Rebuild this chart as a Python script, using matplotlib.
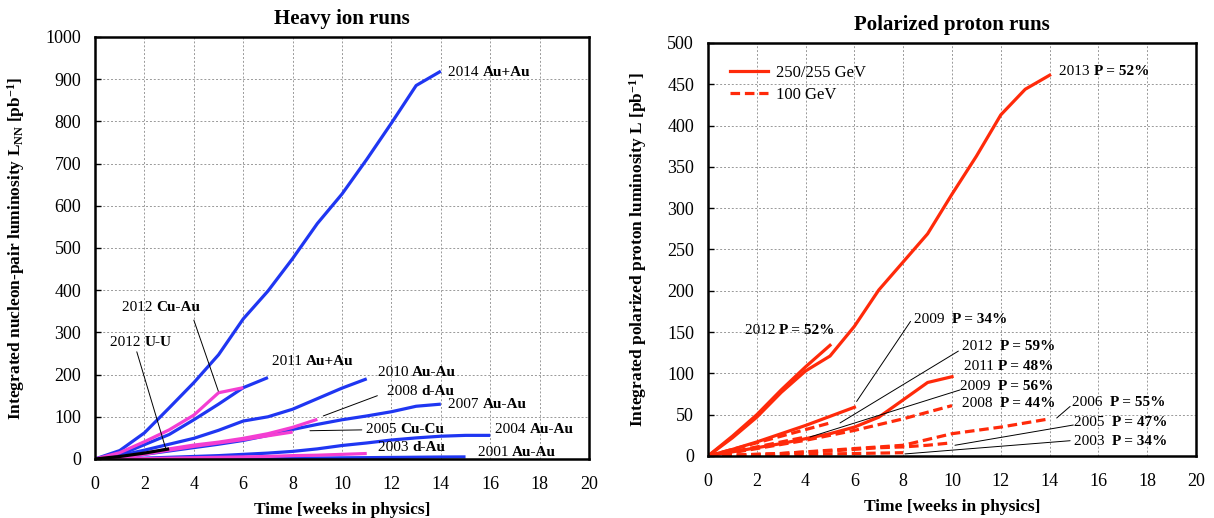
import matplotlib
matplotlib.use("Agg")
import matplotlib.pyplot as plt

plt.rcParams['font.family'] = ['Liberation Serif', 'DejaVu Serif']
plt.rcParams['mathtext.fontset'] = 'custom'
plt.rcParams['mathtext.rm'] = 'Liberation Serif'
plt.rcParams['mathtext.bf'] = 'Liberation Serif:bold'
plt.rcParams['mathtext.it'] = 'Liberation Serif:italic'

BLUE = '#1f36f2'
PINK = '#f43ed2'
RED = '#ff2a0a'

# ---- heavy ion runs (weeks, L_NN in pb^-1) ----
hi_2014 = [0, 20, 62, 121, 181, 247, 332, 398, 475, 558, 628, 710, 796, 885, 919]
hi_2011 = [0, 10, 34, 58, 93, 130, 169, 193]
hi_2012_cuau = [0, 15, 41, 69, 104, 157, 169]
hi_2010 = [0, 8, 21, 35, 49, 68, 90, 100, 118, 143, 168, 190]
hi_2008_dau = [0, 5, 13, 24, 33, 40, 49, 60, 75, 94]
hi_2005_cucu = [0, 4, 11, 21, 30, 38, 46, 55, 64]
hi_2007 = [0, 4, 11, 19, 27, 35, 44, 56, 70, 82, 93, 102, 112, 125, 130]
hi_2004 = [0, 1, 2, 4, 6, 8, 11, 14, 18, 24, 32, 38, 45, 50, 54, 56, 56]
hi_2003_dau = [0, 0.5, 1, 2, 3, 4, 5, 6, 8, 9, 11, 13]
hi_2001 = [0, 0.2, 0.4, 0.6, 0.8, 1, 1.3, 1.6, 2, 2.4, 2.8, 3.2, 3.7, 4.2, 4.7, 5]
hi_2012_uu = [0, 6, 14, 24]

# ---- polarized proton runs (weeks, L in pb^-1) ----
pp_2013 = [0, 22, 47, 77, 103, 121, 157, 201, 235, 269, 317, 363, 413, 444, 461]
pp_2012_255 = [0, 24, 50, 80, 108, 134]
pp_2009_250 = [0, 8, 17, 27, 37, 48, 59]
pp_2011_250 = [0, 5, 10, 15, 21, 27, 35, 47, 68, 89, 96]
pp_2012_100 = [0, 8, 16, 24, 32, 40]
pp_2009_100 = [0, 5, 11, 17, 23]
pp_2008_100 = [0, 4, 9, 14, 19, 25, 31, 38, 45, 53, 61]
pp_2006_100 = [0, 1, 2, 3, 5, 7, 9, 11, 13, 20, 27, 31, 35, 40, 45]
pp_2005_100 = [0, 1, 2, 3, 5, 6, 8, 10, 11, 13, 16]
pp_2003_100 = [0, 0.5, 1, 1.5, 2, 2.5, 3, 3.5, 4]

hi_runs = [
    (hi_2001, BLUE), (hi_2004, BLUE), (hi_2007, BLUE), (hi_2010, BLUE),
    (hi_2011, BLUE), (hi_2014, BLUE), (hi_2003_dau, PINK), (hi_2005_cucu, PINK),
    (hi_2008_dau, PINK), (hi_2012_cuau, PINK), (hi_2012_uu, 'black'),
]
pp_runs = [
    (pp_2003_100, '--'), (pp_2005_100, '--'), (pp_2006_100, '--'),
    (pp_2008_100, '--'), (pp_2009_100, '--'), (pp_2012_100, '--'),
    (pp_2009_250, '-'), (pp_2011_250, '-'), (pp_2012_255, '-'), (pp_2013, '-'),
]


def label(ax, x, y, year, bold, gap=' '):
    t = ax.text(x, y, year + gap, fontsize=11, va='center', ha='left')
    ax.annotate(bold, xy=(1, 0.5), xycoords=t, fontsize=11, fontweight='bold',
                va='center', ha='left')


def leader(ax, start, end):
    ax.annotate('', xy=end, xytext=start,
                arrowprops=dict(arrowstyle='-', lw=0.7, color='black',
                                shrinkA=0, shrinkB=0))


def style(ax, ymax, ystep):
    ax.set_xlim(0, 20)
    ax.set_ylim(0, ymax)
    ax.set_xticks(range(0, 21, 2))
    ax.set_yticks(range(0, ymax + 1, ystep))
    ax.grid(True, linestyle=(0, (2, 2)), color='#999999', lw=0.7)
    ax.tick_params(direction='in', length=4, labelsize=13, width=1, pad=10)
    ax.tick_params(axis='x', length=0, pad=12)
    for s in ax.spines.values():
        s.set_linewidth(1.8)
    ax.set_xlabel('Time [weeks in physics]', fontsize=12.5, fontweight='bold',
                  labelpad=7)


fig = plt.figure(figsize=(12.14, 5.18), dpi=100)
ax1 = fig.add_axes([0.0783, 0.1139, 0.4069, 0.8147])
ax2 = fig.add_axes([0.5832, 0.1197, 0.4020, 0.7973])

for vals, col in hi_runs:
    ax1.plot(range(len(vals)), vals, color=col, lw=2.3, solid_capstyle='butt')
style(ax1, 1000, 100)
ax1.set_title('Heavy ion runs', fontsize=15, fontweight='bold', pad=9)
ax1.set_ylabel(r'Integrated nucleon-pair luminosity L$_{\mathbf{NN}}$ [pb$^{\mathbf{-1}}$]',
               fontsize=12.5, fontweight='bold', labelpad=13)

label(ax1, 14.3, 917, '2014', 'Au+Au')
label(ax1, 1.1, 360, '2012', 'Cu-Au')
leader(ax1, (4.0, 329), (4.99, 161))
label(ax1, 0.6, 277, '2012', 'U-U')
leader(ax1, (1.69, 254), (2.87, 23))
label(ax1, 7.17, 230, '2011', 'Au+Au')
label(ax1, 11.45, 206, '2010', 'Au-Au')
label(ax1, 11.8, 159, '2008', 'd-Au')
leader(ax1, (11.43, 150), (9.24, 102))
label(ax1, 14.3, 128, '2007', 'Au-Au')
label(ax1, 10.97, 69, '2005', 'Cu-Cu')
leader(ax1, (10.8, 69), (8.7, 67))
label(ax1, 16.2, 69, '2004', 'Au-Au')
label(ax1, 11.45, 28, '2003', 'd-Au')
label(ax1, 15.5, 16, '2001', 'Au-Au')

for vals, ls in pp_runs:
    ax2.plot(range(len(vals)), vals, color=RED, lw=2.3, ls=ls,
             dashes=(3, 1.5) if ls == '--' else (None, None))
style(ax2, 500, 50)
ax2.set_title('Polarized proton runs', fontsize=15, fontweight='bold', pad=9)
ax2.set_ylabel(r'Integrated polarized proton luminosity L [pb$^{\mathbf{-1}}$]',
               fontsize=12.5, fontweight='bold', labelpad=13)

h1, = ax2.plot([], [], color=RED, lw=2.3, ls='-')
h2, = ax2.plot([], [], color=RED, lw=2.3, ls='--', dashes=(3, 1.5))
ax2.legend([h1, h2], ['250/255 GeV', '100 GeV'], loc='upper left', frameon=False,
           fontsize=12, handlelength=2.3, handletextpad=0.5,
           borderaxespad=0.9, labelspacing=0.4)

label(ax2, 14.4, 465, '2013', 'P = 52%')
label(ax2, 1.5, 152, '2012', 'P = 52%')
label(ax2, 8.45, 165, '2009', 'P = 34%', gap='  ')
leader(ax2, (8.3, 163), (6.09, 66))
label(ax2, 10.4, 132, '2012', 'P = 59%', gap='  ')
leader(ax2, (10.26, 127), (5.41, 40))
label(ax2, 10.5, 108, '2011', 'P = 48%')
label(ax2, 10.33, 84, '2009', 'P = 56%', gap='  ')
leader(ax2, (10.33, 80), (4.18, 23))
label(ax2, 10.4, 63, '2008', 'P = 44%', gap='  ')
label(ax2, 14.9, 65, '2006', 'P = 55%', gap='  ')
leader(ax2, (14.84, 60), (14.29, 46))
label(ax2, 15.0, 41, '2005', 'P = 47%', gap='  ')
leader(ax2, (14.97, 37.5), (10.12, 13))
label(ax2, 15.0, 17, '2003', 'P = 34%', gap='  ')
leader(ax2, (14.84, 18.5), (8.07, 2.5))

fig.savefig('out.png', dpi=100)
